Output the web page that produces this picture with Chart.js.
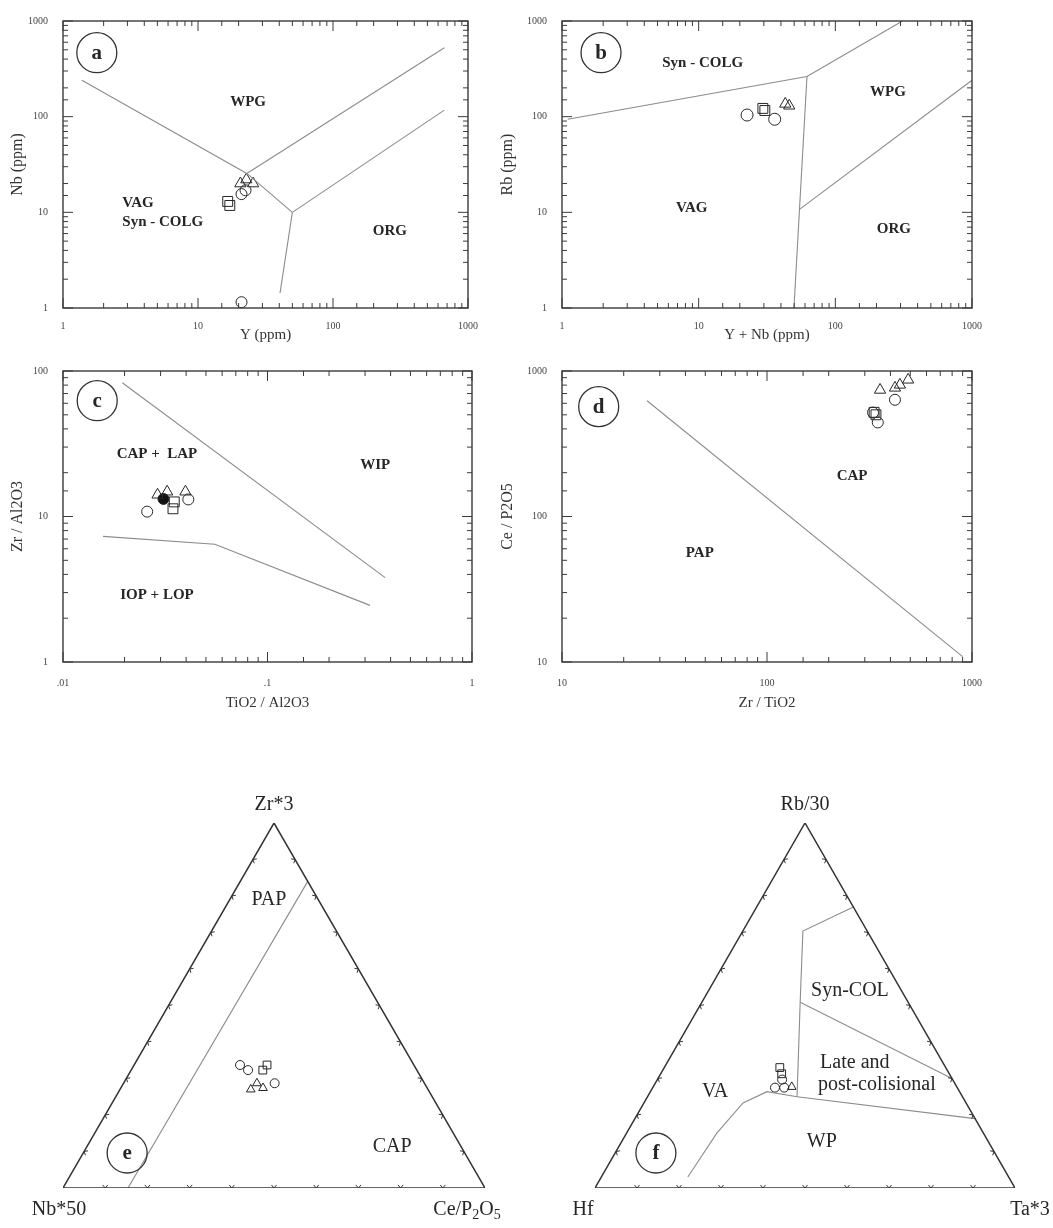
<!DOCTYPE html>
<html lang="en">
<head>
<meta charset="utf-8">
<title>Granite discrimination diagrams</title>
<script src="https://cdn.jsdelivr.net/npm/chart.js@4.4.1/dist/chart.umd.min.js"></script>
<style>
  html, body { margin: 0; padding: 0; background: #fff; }
  body { position: relative; width: 1053px; height: 1228px; overflow: hidden; }
  canvas { position: absolute; }
</style>
</head>
<body>
<canvas id="chart-a" width="490" height="350" style="left:0;top:0"></canvas>
<canvas id="chart-b" width="563" height="350" style="left:490px;top:0"></canvas>
<canvas id="chart-c" width="490" height="380" style="left:0;top:350px"></canvas>
<canvas id="chart-d" width="563" height="380" style="left:490px;top:350px"></canvas>
<canvas id="chart-e" width="525" height="488" style="left:0;top:740px"></canvas>
<canvas id="chart-f" width="523" height="488" style="left:530px;top:740px"></canvas>
<script>
/* ── (a) Nb vs Y ── */
const aCircX = [21, 22.5, 21];
const aCircY = [15.5, 17, 1.15];
const aSqX   = [16.6, 17.2];
const aSqY   = [13, 11.8];
const aTriX  = [20.6, 22.8, 25.6];
const aTriY  = [20, 22, 20];
const aLine1X = [1.38, 23, 50];   const aLine1Y = [240, 25.5, 10];
const aLine2X = [23, 668];        const aLine2Y = [25.5, 525];
const aLine3X = [50, 668];        const aLine3Y = [10, 117];
const aLine4X = [50, 40.5];       const aLine4Y = [10, 1.43];

/* ── (b) Rb vs Y+Nb ── */
const bCircX = [22.6, 36];
const bCircY = [104, 94];
const bSqX   = [29.5, 30.5];
const bSqY   = [122, 116];
const bTriX  = [43, 46];
const bTriY  = [136, 130];
const bLine1X = [1.1, 62, 310];   const bLine1Y = [94, 263, 1000];
const bLine2X = [62, 49.8];       const bLine2Y = [263, 1];
const bLine3X = [55, 1000];       const bLine3Y = [10.8, 240];

/* ── (c) Zr/Al2O3 vs TiO2/Al2O3 ── */
const cCircX = [0.0258, 0.041];
const cCircY = [10.8, 13.1];
const cDotX  = [0.031];
const cDotY  = [13.2];
const cSqX   = [0.0345, 0.035];
const cSqY   = [11.3, 12.6];
const cTriX  = [0.029, 0.0323, 0.0397];
const cTriY  = [14.1, 14.8, 14.8];
const cLine1X = [0.0195, 0.376];          const cLine1Y = [83, 3.8];
const cLine2X = [0.0157, 0.0553, 0.317];  const cLine2Y = [7.3, 6.45, 2.45];

/* ── (d) Ce/P2O5 vs Zr/TiO2 ── */
const dTriX  = [356, 421, 445, 488];
const dTriY  = [741, 766, 803, 870];
const dCircX = [421, 329, 347];
const dCircY = [634, 518, 443];
const dSqX   = [333, 340];
const dSqY   = [520, 500];
const dLineX = [26, 900];         const dLineY = [625, 10.9];

/* ── ternaries: [top %, right %], left = remainder ── */
const triTop   = [0, 0, 100, 0];
const triRight = [0, 100, 0, 0];

// (e) Zr*3 – Nb*50 – Ce/P2O5
const eCircTop = [33.7, 32.3, 28.7];   const eCircRight = [25.1, 27.7, 35.8];
const eSqTop   = [33.7, 32.3];         const eSqRight   = [31.5, 31.2];
const eTriTop  = [28.7, 27.4, 27.0];   const eTriRight  = [31.6, 33.7, 31.0];
const eLineTop = [84, 0];              const eLineRight = [16, 15.4];

// (f) Rb/30 – Hf – Ta*3
const fSqTop   = [33, 31.3];           const fSqRight   = [27.5, 28.8];
const fCircTop = [27.5, 27.5, 29.7];   const fCircRight = [29.1, 31.3, 29.7];
const fTriTop  = [27.7];               const fTriRight  = [33];
const fLine1Top = [77, 70.4, 50.9, 25];            const fLine1Right = [23, 14.3, 23.4, 35.6];
const fLine2Top = [50.9, 30];                      const fLine2Right = [23.4, 70];
const fLine3Top = [25, 19];                        const fLine3Right = [35.6, 81];
const fLine4Top = [25, 26.4, 23.3, 15.1, 3];       const fLine4Right = [35.6, 27.75, 23.6, 21.5, 20.6];

/* ── style ── */
const SERIF = "'Liberation Serif', 'DejaVu Serif', serif";
const INK   = '#262626';
const EDGE  = '#8c8c8c';
const F_REG  = 'bold 15px ' + SERIF;
const F_TERN = '20px ' + SERIF;

Chart.defaults.font.family = SERIF;
Chart.defaults.color = INK;

const H = Math.sqrt(3) / 2;
const zip = (xs, ys) => xs.map((x, i) => ({ x, y: ys[i] }));
const tern = (tops, rights) => tops.map((t, i) => ({ x: (rights[i] + t / 2) / 100, y: t / 100 * H }));
const isDecade = v => Math.abs(Math.log10(v) - Math.round(Math.log10(v))) < 1e-6;

function marks(style, data, r, fill) {
  return {
    data, pointStyle: style, pointRadius: r, pointHoverRadius: r,
    borderWidth: 1, borderColor: INK, backgroundColor: fill || 'rgba(255,255,255,0)',
    showLine: false, clip: false,
  };
}
function edge(data, color, width) {
  return {
    data, showLine: true, pointRadius: 0, pointHoverRadius: 0,
    borderColor: color || EDGE, borderWidth: width || 1.1, fill: false,
  };
}

/* ── annotations ── */
const NOTES = {
  'chart-a': {
    badge: ['a', 1.78, 466, 20],
    texts: [['WPG', 23.5, 141, F_REG], ['VAG', 2.75, 12.5, F_REG, 'left'],
            ['Syn - COLG', 2.75, 7.9, F_REG, 'left'], ['ORG', 264, 6.4, F_REG]],
  },
  'chart-b': {
    badge: ['b', 1.93, 466, 20],
    texts: [['Syn - COLG', 10.7, 367, F_REG], ['WPG', 243, 180, F_REG],
            ['VAG', 8.9, 11.1, F_REG], ['ORG', 268, 6.6, F_REG]],
  },
  'chart-c': {
    badge: ['c', 0.0147, 62.5, 20],
    texts: [['CAP +  LAP', 0.0288, 26.8, F_REG], ['WIP', 0.336, 22.6, F_REG],
            ['IOP + LOP', 0.0288, 2.86, F_REG]],
  },
  'chart-d': {
    badge: ['d', 15.1, 569, 20],
    texts: [['CAP', 260, 190, F_REG], ['PAP', 47, 56, F_REG]],
  },
  'chart-e': {
    badge: ['e', 0.152, 0.083, 20],
    texts: [['Zr*3', 0.5, H, F_TERN, 'center', 0, -18],
            ['Nb*50', 0, 0, F_TERN, 'center', -4, 22],
            [['Ce/P', { sub: '2' }, 'O', { sub: '5' }], 1, 0, F_TERN, 'center', -18, 22],
            ['PAP', 0.488, 0.685, F_TERN], ['CAP', 0.78, 0.097, F_TERN]],
  },
  'chart-f': {
    badge: ['f', 0.145, 0.083, 20],
    texts: [['Rb/30', 0.5, H, F_TERN, 'center', 0, -18],
            ['Hf', 0, 0, F_TERN, 'center', -12, 22],
            ['Ta*3', 1, 0, F_TERN, 'center', 15, 22],
            ['Syn-COL', 0.607, 0.467, F_TERN],
            ['Late and', 0.536, 0.298, F_TERN, 'left'],
            ['post-colisional', 0.531, 0.245, F_TERN, 'left'],
            ['VA', 0.286, 0.229, F_TERN], ['WP', 0.54, 0.11, F_TERN]],
  },
};

function drawText(ctx, t, px, py, align) {
  if (!Array.isArray(t)) { ctx.textAlign = align; ctx.fillText(t, px, py); return; }
  const base = ctx.font;
  const size = parseFloat(base.match(/(\d+(\.\d+)?)px/)[1]);
  const subFont = base.replace(/\d+(\.\d+)?px/, Math.round(size * 0.68) + 'px');
  const parts = t.map(s => typeof s === 'string' ? { s, sub: false } : { s: s.sub, sub: true });
  let w = 0;
  parts.forEach(p => { ctx.font = p.sub ? subFont : base; p.w = ctx.measureText(p.s).width; w += p.w; });
  let cx = align === 'center' ? px - w / 2 : align === 'right' ? px - w : px;
  ctx.textAlign = 'left';
  parts.forEach(p => {
    ctx.font = p.sub ? subFont : base;
    ctx.fillText(p.s, cx, py + (p.sub ? size * 0.28 : 0));
    cx += p.w;
  });
  ctx.font = base;
}

const notesPlugin = {
  id: 'notes',
  afterDraw(chart) {
    const n = NOTES[chart.canvas.id];
    if (!n) return;
    const { ctx, scales: { x, y } } = chart;
    ctx.save();
    ctx.fillStyle = INK;
    ctx.textBaseline = 'middle';
    n.texts.forEach(([t, vx, vy, font, align = 'center', dx = 0, dy = 0]) => {
      ctx.font = font;
      drawText(ctx, t, x.getPixelForValue(vx) + dx, y.getPixelForValue(vy) + dy, align);
    });
    if (n.badge) {
      const [letter, vx, vy, r] = n.badge;
      const px = x.getPixelForValue(vx), py = y.getPixelForValue(vy);
      ctx.strokeStyle = '#333';
      ctx.lineWidth = 1.3;
      ctx.beginPath(); ctx.arc(px, py, r, 0, Math.PI * 2); ctx.stroke();
      ctx.font = 'bold 21px ' + SERIF;
      ctx.textAlign = 'center';
      ctx.fillText(letter, px, py + 1);
    }
    ctx.restore();
  },
};

/* ── inward ticks and box for the log panels ── */
const framePlugin = {
  id: 'frame',
  afterDraw(chart) {
    const { ctx, chartArea: a, scales: { x, y } } = chart;
    ctx.save();
    ctx.strokeStyle = '#3a3a3a';
    ctx.lineWidth = 1.4;
    ctx.strokeRect(a.left, a.top, a.right - a.left, a.bottom - a.top);
    ctx.lineWidth = 1;
    ctx.beginPath();
    x.ticks.forEach(t => {
      const p = x.getPixelForValue(t.value), L = isDecade(t.value) ? 10 : 5;
      ctx.moveTo(p, a.bottom); ctx.lineTo(p, a.bottom - L);
      ctx.moveTo(p, a.top);    ctx.lineTo(p, a.top + L);
    });
    y.ticks.forEach(t => {
      const p = y.getPixelForValue(t.value), L = isDecade(t.value) ? 10 : 5;
      ctx.moveTo(a.left, p);  ctx.lineTo(a.left + L, p);
      ctx.moveTo(a.right, p); ctx.lineTo(a.right - L, p);
    });
    ctx.stroke();
    ctx.restore();
  },
};

/* ── small "v" ticks on the triangle edges ── */
const ternTicksPlugin = {
  id: 'ternTicks',
  afterDraw(chart) {
    const { ctx, scales: { x, y } } = chart;
    const sides = [
      { pt: k => ({ x: k / 10, y: 0 }),                 n: [0, -1] },
      { pt: k => ({ x: k / 20, y: k / 10 * H }),        n: [0.866, 0.5] },
      { pt: k => ({ x: 1 - k / 20, y: k / 10 * H }),    n: [-0.866, 0.5] },
    ];
    ctx.save();
    ctx.strokeStyle = '#333';
    ctx.lineWidth = 1;
    ctx.beginPath();
    sides.forEach(s => {
      for (let k = 1; k <= 9; k++) {
        const p = s.pt(k);
        const px = x.getPixelForValue(p.x), py = y.getPixelForValue(p.y);
        [-0.7, 0.7].forEach(a => {
          const c = Math.cos(a), sn = Math.sin(a);
          const dx = s.n[0] * c - s.n[1] * sn, dy = s.n[0] * sn + s.n[1] * c;
          ctx.moveTo(px, py); ctx.lineTo(px + dx * 4, py + dy * 4);
        });
      }
    });
    ctx.stroke();
    ctx.restore();
  },
};

/* ── builders ── */
function logChart(id, o) {
  const tickFont = { size: 10 };
  return new Chart(document.getElementById(id), {
    type: 'scatter',
    data: { datasets: o.datasets },
    options: {
      responsive: false,
      animation: false,
      events: [],
      layout: { padding: { left: 0, top: 18, right: o.padRight, bottom: 0 } },
      plugins: { legend: { display: false }, tooltip: { enabled: false } },
      scales: {
        x: {
          type: 'logarithmic', min: o.xMin, max: o.xMax,
          grid: { display: false, drawTicks: false }, border: { display: false },
          ticks: { autoSkip: false, maxRotation: 0, padding: o.xTickPad, font: tickFont, color: '#444',
                   callback: v => isDecade(v) ? o.xFmt(v) : '' },
          title: { display: true, text: o.xTitle, font: { size: 15 }, color: '#333',
                   padding: { top: 0, bottom: o.xTitlePad } },
          afterFit: s => { s.height = o.xHeight; },
        },
        y: {
          type: 'logarithmic', min: o.yMin, max: o.yMax,
          grid: { display: false, drawTicks: false }, border: { display: false },
          ticks: { autoSkip: false, padding: 15, font: tickFont, color: '#444',
                   callback: v => isDecade(v) ? String(v) : '' },
          title: { display: true, text: o.yTitle, font: { size: 16 }, color: '#333',
                   padding: { top: 8, bottom: 0 } },
          afterFit: s => { s.width = o.yWidth; },
        },
      },
    },
    plugins: [framePlugin, notesPlugin],
  });
}

function ternChart(id, datasets, pad) {
  return new Chart(document.getElementById(id), {
    type: 'scatter',
    data: { datasets: [edge(tern(triTop, triRight), '#333', 1.5), ...datasets] },
    options: {
      responsive: false,
      animation: false,
      events: [],
      layout: { padding: pad },
      plugins: { legend: { display: false }, tooltip: { enabled: false } },
      scales: {
        x: { type: 'linear', min: 0, max: 1, display: false },
        y: { type: 'linear', min: 0, max: H, display: false },
      },
    },
    plugins: [ternTicksPlugin, notesPlugin],
  });
}

/* ── panels ── */
const plain = v => String(v);

logChart('chart-a', {
  xMin: 1, xMax: 1000, yMin: 1, yMax: 1000, xFmt: plain,
  xTitle: 'Y (ppm)', yTitle: 'Nb (ppm)',
  padRight: 18, yWidth: 63, xHeight: 42, xTickPad: 12, xTitlePad: 6,
  datasets: [
    edge(zip(aLine1X, aLine1Y)), edge(zip(aLine2X, aLine2Y)),
    edge(zip(aLine3X, aLine3Y)), edge(zip(aLine4X, aLine4Y)),
    marks('circle', zip(aCircX, aCircY), 5.5),
    marks('rect', zip(aSqX, aSqY), 7),
    marks('triangle', zip(aTriX, aTriY), 6.5),
  ],
});

logChart('chart-b', {
  xMin: 1, xMax: 1000, yMin: 1, yMax: 1000, xFmt: plain,
  xTitle: 'Y + Nb (ppm)', yTitle: 'Rb (ppm)',
  padRight: 81, yWidth: 72, xHeight: 42, xTickPad: 12, xTitlePad: 6,
  datasets: [
    edge(zip(bLine1X, bLine1Y)), edge(zip(bLine2X, bLine2Y)), edge(zip(bLine3X, bLine3Y)),
    marks('circle', zip(bCircX, bCircY), 6),
    marks('rect', zip(bSqX, bSqY), 7),
    marks('triangle', zip(bTriX, bTriY), 6.5),
  ],
});

logChart('chart-c', {
  xMin: 0.01, xMax: 1, yMin: 1, yMax: 100,
  xFmt: v => v < 1 ? String(+v.toFixed(2)).replace(/^0/, '') : String(v),
  xTitle: 'TiO2 / Al2O3', yTitle: 'Zr / Al2O3',
  padRight: 18, yWidth: 63, xHeight: 68, xTickPad: 15, xTitlePad: 18,
  datasets: [
    edge(zip(cLine1X, cLine1Y)), edge(zip(cLine2X, cLine2Y)),
    marks('circle', zip(cCircX, cCircY), 5.5),
    marks('rect', zip(cSqX, cSqY), 7),
    marks('triangle', zip(cTriX, cTriY), 6.5),
    marks('circle', zip(cDotX, cDotY), 5.5, '#111'),
  ],
});

logChart('chart-d', {
  xMin: 10, xMax: 1000, yMin: 10, yMax: 1000, xFmt: plain,
  xTitle: 'Zr / TiO2', yTitle: 'Ce / P2O5',
  padRight: 81, yWidth: 72, xHeight: 68, xTickPad: 15, xTitlePad: 18,
  datasets: [
    edge(zip(dLineX, dLineY)),
    marks('circle', zip(dCircX, dCircY), 5.5),
    marks('rect', zip(dSqX, dSqY), 7),
    marks('triangle', zip(dTriX, dTriY), 6.5),
  ],
});

ternChart('chart-e', [
  edge(tern(eLineTop, eLineRight)),
  marks('circle', tern(eCircTop, eCircRight), 4.5),
  marks('rect', tern(eSqTop, eSqRight), 5.5),
  marks('triangle', tern(eTriTop, eTriRight), 5),
], { left: 63, right: 40, top: 83, bottom: 40 });

ternChart('chart-f', [
  edge(tern(fLine1Top, fLine1Right)), edge(tern(fLine2Top, fLine2Right)),
  edge(tern(fLine3Top, fLine3Right)), edge(tern(fLine4Top, fLine4Right)),
  marks('rect', tern(fSqTop, fSqRight), 5.5),
  marks('circle', tern(fCircTop, fCircRight), 4.5),
  marks('triangle', tern(fTriTop, fTriRight), 5),
], { left: 65, right: 38, top: 83, bottom: 40 });
</script>
</body>
</html>
